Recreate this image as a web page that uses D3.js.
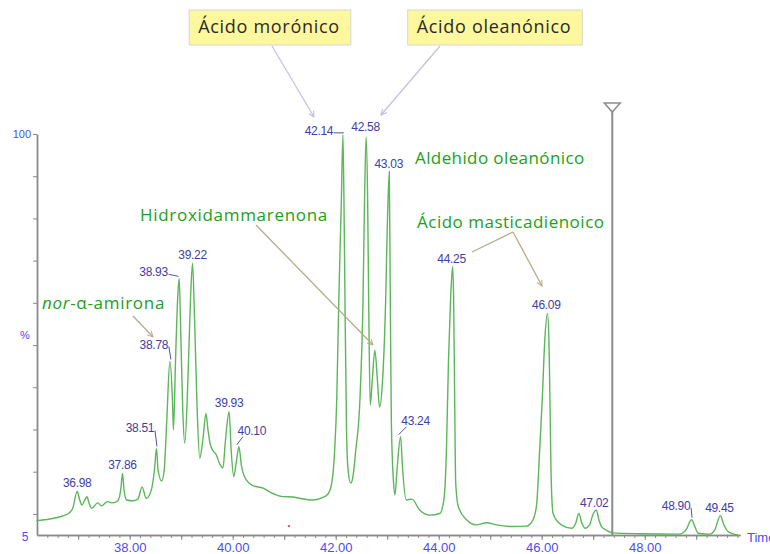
<!DOCTYPE html>
<html>
<head>
<meta charset="utf-8">
<script src="https://cdn.jsdelivr.net/npm/d3@7"></script>
<style>
	body{margin:0;background:#fff;}
	svg{display:block;font-family:"Liberation Sans",Arial,sans-serif;}
</style>
</head>
<body>
<div id="chart"></div>
<script>
// retention time (min) and relative abundance (%)
const traceTime = [36.19,36.45,36.70,36.84,36.89,36.98,37.03,37.07,37.13,37.17,37.21,37.26,37.38,37.45,37.57,37.67,37.77,37.83,37.86,37.89,37.94,38.06,38.16,38.24,38.32,38.42,38.48,38.52,38.55,38.62,38.67,38.72,38.78,38.83,38.85,38.89,38.93,38.96,38.99,39.03,39.07,39.13,39.18,39.22,39.26,39.31,39.36,39.42,39.48,39.52,39.56,39.61,39.68,39.75,39.81,39.86,39.93,39.97,40.02,40.07,40.12,40.17,40.23,40.39,40.59,40.72,40.97,41.17,41.30,41.55,41.73,41.85,41.92,41.98,42.02,42.06,42.11,42.14,42.16,42.18,42.21,42.24,42.29,42.33,42.39,42.47,42.53,42.56,42.59,42.62,42.64,42.67,42.71,42.76,42.81,42.85,42.91,42.97,43.00,43.04,43.06,43.08,43.12,43.15,43.19,43.26,43.30,43.37,43.48,43.63,43.83,44.02,44.10,44.15,44.19,44.23,44.27,44.29,44.31,44.33,44.38,44.54,44.73,44.93,45.12,45.44,45.70,45.83,45.90,45.96,46.01,46.06,46.11,46.14,46.16,46.18,46.22,46.38,46.58,46.66,46.72,46.78,46.84,46.93,46.99,47.06,47.11,47.16,47.26,47.38,47.90,48.68,48.80,48.91,48.97,49.04,49.26,49.36,49.47,49.53,49.62,49.81];
const traceIntensity = [8.4,8.8,9.5,10.4,11.2,15.3,13.3,12.1,13.3,14.1,12.6,11.3,12.6,11.9,12.9,12.6,13.1,16.1,19.6,15.7,13.3,13.1,13.5,16.4,13.7,15.7,20.4,25.5,20.4,17.8,20.4,32.2,46.1,37.0,29.9,46.5,60.7,65.8,53.6,34.6,26.7,41.7,60.7,69.4,55.9,34.6,23.2,27.5,33.8,29.9,26.7,25.1,24.0,21.8,20.9,27.5,34.2,25.1,18.8,22.3,25.9,21.4,18.8,16.7,16.1,15.2,14.1,14.0,13.7,13.3,13.8,14.7,17.1,25.1,37.0,60.7,84.4,99.8,84.4,60.7,29.9,20.4,17.3,18.5,25.1,37.0,60.7,84.4,99.3,84.4,60.7,35.8,41.7,48.8,41.7,35.3,41.7,60.7,77.3,91.1,60.7,32.2,18.0,14.5,20.4,28.3,20.4,13.3,13.5,10.9,9.7,10.1,13.3,25.1,46.5,60.7,68.6,60.7,37.0,17.3,11.7,8.6,7.4,7.9,7.4,7.0,7.1,8.6,12.1,25.1,37.0,51.2,57.5,51.2,37.0,20.4,10.1,7.4,6.6,7.8,10.1,7.8,6.6,7.4,9.7,10.9,8.6,7.0,6.1,5.5,5.3,5.2,6.2,8.6,7.1,5.4,5.2,6.2,9.6,7.6,5.8,5.0];

// labelled peaks: printed retention time and apex height (%)
const peakTimes = ["36.98","37.86","38.51","38.78","38.93","39.22","39.93","40.10","42.14","42.58","43.03","43.24","44.25","46.09","47.02","48.90","49.45"];
const peakApex = [15.3,19.6,25.5,46.1,65.8,69.4,34.2,25.9,99.8,99.3,91.1,28.3,68.6,57.5,10.9,8.6,9.6];

const boxedCompounds = ["Ácido morónico","Ácido oleanónico"];
const greenCompounds = ["Hidroxidammarenona","Aldehido oleanónico","Ácido masticadienoico"];
const xTickLabels = ["38.00","40.00","42.00","44.00","46.00","48.00"];
const yTickLabels = ["100","5"];
const cursorTime = 47.37;
const strayPoint = [41.09, 7.1];

let width = 770;
let height = 554;

let x = d3.scaleLinear().domain([36.2, 49.85]).range([37, 740]);
let y = d3.scaleLinear().domain([5, 100]).range([535, 134]);

let svg = d3.select("#chart").append("svg")
	.attr("width", width)
	.attr("height", height);

let defs = svg.append("defs");
function addArrow(id, color){
	defs.append("marker")
		.attr("id", id)
		.attr("viewBox", "0 0 10 10")
		.attr("refX", 9).attr("refY", 5)
		.attr("markerWidth", 7).attr("markerHeight", 7)
		.attr("markerUnits", "userSpaceOnUse")
		.attr("orient", "auto")
		.append("path")
		.attr("d", "M1,1 L9,5 L1,9")
		.attr("fill", "none")
		.attr("stroke", color)
		.attr("stroke-width", 1.4);
}
addArrow("arrowPurple", "#bdb6e0");
addArrow("arrowTan", "#b4ad88");

const axisBlue = "#4d4df2";
const axisGrey = "#8a8a8a";

// ---- x axis: minor ticks every 0.2 min, bigger every minute ----
let xMinor = d3.axisBottom(x)
	.tickValues(d3.range(36.4, 49.81, 0.2))
	.tickSize(3).tickSizeOuter(0).tickFormat("");
svg.append("g").attr("transform", "translate(0,535)").call(xMinor);

let xAxis = d3.axisBottom(x)
	.tickValues(d3.range(37, 50, 1))
	.tickSize(5).tickSizeOuter(0).tickPadding(3)
	.tickFormat(d => xTickLabels.find(l => +l === d) || "");
let gx = svg.append("g").attr("transform", "translate(0,535)").call(xAxis);

svg.selectAll(".domain").attr("stroke", axisGrey).attr("stroke-width", 1.6);
svg.selectAll(".tick line").attr("stroke", axisGrey);
gx.selectAll(".tick text")
	.attr("fill", axisBlue)
	.style("font-size", "13px")
	.style("font-family", "Liberation Sans, Arial, sans-serif");

// ---- y axis ----
let yAxis = d3.axisLeft(y)
	.tickValues(d3.range(10, 101, 10))
	.tickSize(4).tickSizeOuter(0).tickPadding(2)
	.tickFormat(d => yTickLabels.find(l => +l === d) || "");
let gy = svg.append("g").attr("transform", "translate(37,0)").call(yAxis);
gy.select(".domain").attr("stroke", axisGrey).attr("stroke-width", 1.8);
gy.selectAll(".tick line").attr("stroke", axisGrey);
gy.selectAll(".tick text")
	.attr("fill", axisBlue)
	.style("font-size", "11px")
	.style("font-family", "Liberation Sans, Arial, sans-serif");

svg.append("text")
	.attr("x", 25).attr("y", y(5) + 6)
	.attr("text-anchor", "middle")
	.attr("fill", axisBlue)
	.style("font-size", "12px")
	.text(yTickLabels[1]);

svg.append("text")
	.attr("x", 25).attr("y", 339)
	.attr("text-anchor", "middle")
	.attr("fill", axisBlue)
	.style("font-size", "11px")
	.text("%");

svg.append("text")
	.attr("x", 747).attr("y", 542)
	.attr("fill", axisBlue)
	.style("font-size", "13px")
	.text("Time");

// ---- chromatogram trace ----
let line = d3.line()
	.x(d => x(d))
	.y((d, i) => y(traceIntensity[i]))
	.curve(d3.curveMonotoneX);

svg.append("path")
	.datum(traceTime)
	.attr("fill", "none")
	.attr("stroke", "#5cb65a")
	.attr("stroke-width", 1.4)
	.attr("stroke-linejoin", "round")
	.attr("d", line);

svg.append("rect")
	.attr("x", x(strayPoint[0]) - 1).attr("y", y(strayPoint[1]) - 1)
	.attr("width", 2).attr("height", 2)
	.attr("fill", "#e05050");

// ---- cursor marker ----
let cx = x(cursorTime);
svg.append("line")
	.attr("x1", cx).attr("x2", cx)
	.attr("y1", 104).attr("y2", 535)
	.attr("stroke", "#8c8c8c").attr("stroke-width", 2);
svg.append("path")
	.attr("d", `M${cx - 8},103 L${cx + 8},103 L${cx},112 Z`)
	.attr("fill", "#fff").attr("stroke", "#8c8c8c").attr("stroke-width", 1.5);

// ---- peak labels ----
const labelOffsets = [[0,-5],[0,-4],[-16,-16],[-16,-13],[-24,-2],[0,-4],[0,-5],[14,-12],[-24,0],[0,-6],[0,-4],[16,-12],[0,-4],[0,-4],[0,-3],[-15,-10],[0,-4]];
const peakBlue = "#403ea0";

let peaks = svg.append("g").attr("class", "peaks");
peakTimes.forEach((t, i) => {
	let ax = x(+t), ay = y(peakApex[i]);
	let [dx, dy] = labelOffsets[i];
	let lx = ax + dx, ly = ay + dy;
	peaks.append("text")
		.attr("x", lx).attr("y", ly)
		.attr("text-anchor", "middle")
		.attr("fill", peakBlue)
		.style("font-size", "12px")
		.style("letter-spacing", "-0.3px")
		.text(t);
	if (dx !== 0) {
		let sx = dx < 0 ? lx + 15 : lx - 9;
		let sy = dx < 0 ? ly - 2 : ly + 2;
		peaks.append("line")
			.attr("x1", sx).attr("y1", sy)
			.attr("x2", ax - Math.sign(dx)).attr("y2", ay - 2)
			.attr("stroke", peakBlue).attr("stroke-width", 0.9);
	}
});

// ---- yellow boxed compound names ----
const boxCentres = [269, 494];
boxedCompounds.forEach((name, i) => {
	let g = svg.append("g");
	let t = g.append("text")
		.attr("x", boxCentres[i]).attr("y", 33)
		.attr("text-anchor", "middle")
		.attr("fill", "#2a2a2a")
		.style("font-family", "Open Sans, sans-serif")
		.style("font-size", "18px")
		.style("letter-spacing", "0.7px")
		.text(name);
	let bb = t.node().getBBox();
	g.insert("rect", "text")
		.attr("x", bb.x - 9).attr("y", 10)
		.attr("width", bb.width + 20).attr("height", 35)
		.attr("fill", "#fdf89e")
		.attr("stroke", "#d6d6d6");
});

svg.append("line")
	.attr("x1", 272).attr("y1", 46).attr("x2", 314).attr("y2", 117)
	.attr("stroke", "#c4bee2").attr("stroke-width", 1.2)
	.attr("marker-end", "url(#arrowPurple)");
svg.append("line")
	.attr("x1", 440).attr("y1", 46).attr("x2", 381).attr("y2", 115)
	.attr("stroke", "#c4bee2").attr("stroke-width", 1.2)
	.attr("marker-end", "url(#arrowPurple)");

// ---- green compound names ----
const green = "#20a020";
function greenText(px, py, name){
	return svg.append("text")
		.attr("x", px).attr("y", py)
		.attr("fill", green)
		.style("font-family", "Open Sans, sans-serif")
		.style("font-size", "17px")
		.style("letter-spacing", "0.7px")
		.text(name);
}
greenText(140, 221, greenCompounds[0]);
greenText(415, 164, greenCompounds[1]).style("letter-spacing", "0.4px");
greenText(417, 228, greenCompounds[2]).style("letter-spacing", "0.5px");

let nor = greenText(42, 309, "");
nor.append("tspan").style("font-style", "italic").text("nor");
nor.append("tspan").text("-α-amirona");

const tan = "#b4ad88";
function tanLine(x1, y1, x2, y2, arrow){
	let l = svg.append("line")
		.attr("x1", x1).attr("y1", y1).attr("x2", x2).attr("y2", y2)
		.attr("stroke", tan).attr("stroke-width", 1.3);
	if (arrow) l.attr("marker-end", "url(#arrowTan)");
}
tanLine(256, 225, 373, 345, true);
tanLine(133, 316, 153, 337, true);
tanLine(513, 232, 472, 252, false);
tanLine(513, 232, 542, 286, true);
</script>
</body>
</html>
